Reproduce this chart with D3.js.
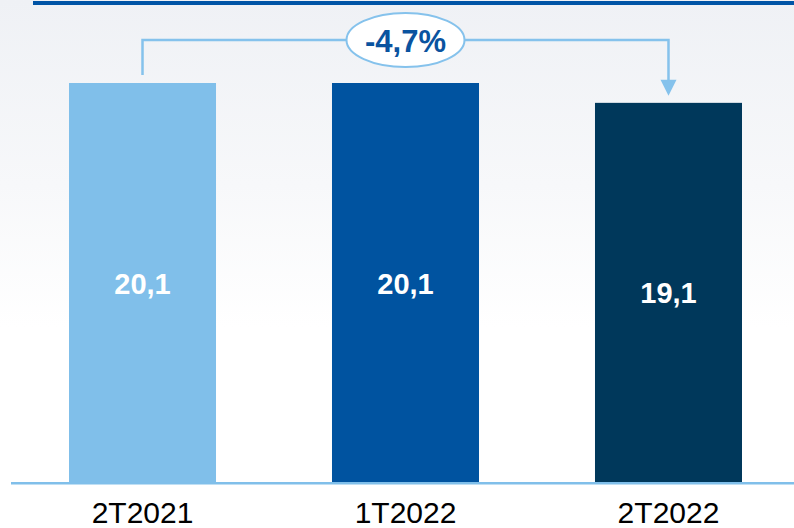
<!DOCTYPE html>
<html>
<head>
<meta charset="utf-8">
<script src="https://cdn.jsdelivr.net/npm/d3@7"></script>
<style>
    html, body { margin: 0; padding: 0; background: #ffffff; }
    svg { display: block; font-family: "Liberation Sans", Arial, sans-serif; }
</style>
</head>
<body>
<div id="chart"></div>
<script>
// The data for the chart
var categories = ["2T2021", "1T2022", "2T2022"];
var values = [20.1, 20.1, 19.1];
var valueLabels = ["20,1", "20,1", "19,1"];
var changeLabel = "-4,7%";

var barColors = ["#80bfea", "#0053a0", "#00385b"];

var width = 794;
var height = 528;

var svg = d3.select("#chart")
    .append("svg")
    .attr("width", width)
    .attr("height", height);

// Background fading from light grey-blue to white
var defs = svg.append("defs");
var grad = defs.append("linearGradient")
    .attr("id", "bg")
    .attr("x1", 0).attr("y1", 0)
    .attr("x2", 0).attr("y2", 1);
grad.append("stop").attr("offset", "0%").attr("stop-color", "#eff1f5");
grad.append("stop").attr("offset", "35%").attr("stop-color", "#f7f8fa");
grad.append("stop").attr("offset", "62%").attr("stop-color", "#ffffff");
grad.append("stop").attr("offset", "100%").attr("stop-color", "#ffffff");

svg.append("rect")
    .attr("width", width)
    .attr("height", height)
    .attr("fill", "url(#bg)");

// Top blue rule
svg.append("rect")
    .attr("x", 33).attr("y", 1)
    .attr("width", width - 33).attr("height", 4)
    .attr("fill", "#0054a6");

// Scales
var x = d3.scaleBand()
    .domain(categories)
    .range([69, 742])
    .paddingInner(0.441)
    .paddingOuter(0);

var y = d3.scaleLinear()
    .domain([0, d3.max(values)])
    .range([482, 83]);

// Bars
svg.selectAll(".bar")
    .data(values)
    .enter()
    .append("rect")
    .attr("class", "bar")
    .attr("x", (d, i) => x(categories[i]))
    .attr("y", d => y(d))
    .attr("width", x.bandwidth())
    .attr("height", d => y(0) - y(d))
    .attr("fill", (d, i) => barColors[i]);

// Value labels in the middle of each bar
svg.selectAll(".val")
    .data(values)
    .enter()
    .append("text")
    .attr("class", "val")
    .attr("x", (d, i) => x(categories[i]) + x.bandwidth() / 2)
    .attr("y", d => (y(d) + y(0)) / 2 + 11)
    .attr("text-anchor", "middle")
    .attr("fill", "#ffffff")
    .attr("font-weight", "bold")
    .attr("font-size", "29px")
    .text((d, i) => valueLabels[i]);

// Baseline
svg.append("rect")
    .attr("x", 11).attr("y", y(0))
    .attr("width", width - 11).attr("height", 2.5)
    .attr("fill", "#80bfea");

// Category labels (x axis)
var xAxis = svg.append("g")
    .attr("transform", `translate(0, ${y(0)})`)
    .call(d3.axisBottom(x).tickSize(0).tickPadding(0));
xAxis.select(".domain").remove();
xAxis.selectAll("text")
    .attr("dy", null)
    .attr("y", 41)
    .attr("fill", "#000000")
    .attr("font-size", "30px")
    .attr("font-family", "Liberation Sans, Arial, sans-serif");

// Connector showing the change from first to last bar
var first = categories[0];
var last = categories[categories.length - 1];
var x1 = x(first) + x.bandwidth() / 2;
var x2 = x(last) + x.bandwidth() / 2;
var lineY = 40;
var tipY = y(values[values.length - 1]) - 7;
var lineColor = "#85c2ec";

svg.append("path")
    .attr("d", `M${x1},${y(values[0]) - 8} L${x1},${lineY} L${x2},${lineY} L${x2},${tipY - 12}`)
    .attr("fill", "none")
    .attr("stroke", lineColor)
    .attr("stroke-width", 2.5);

svg.append("path")
    .attr("d", `M${x2 - 8},${tipY - 16} L${x2 + 8},${tipY - 16} L${x2},${tipY} Z`)
    .attr("fill", lineColor);

// Ellipse with the change label, centred over the middle bar
var midX = x(categories[1]) + x.bandwidth() / 2;
svg.append("ellipse")
    .attr("cx", midX)
    .attr("cy", lineY)
    .attr("rx", 59)
    .attr("ry", 27)
    .attr("fill", "#ffffff")
    .attr("stroke", lineColor)
    .attr("stroke-width", 2);

svg.append("text")
    .attr("x", midX)
    .attr("y", lineY + 12)
    .attr("text-anchor", "middle")
    .attr("fill", "#0a539f")
    .attr("font-weight", "bold")
    .attr("font-size", "31px")
    .text(changeLabel);
</script>
</body>
</html>
